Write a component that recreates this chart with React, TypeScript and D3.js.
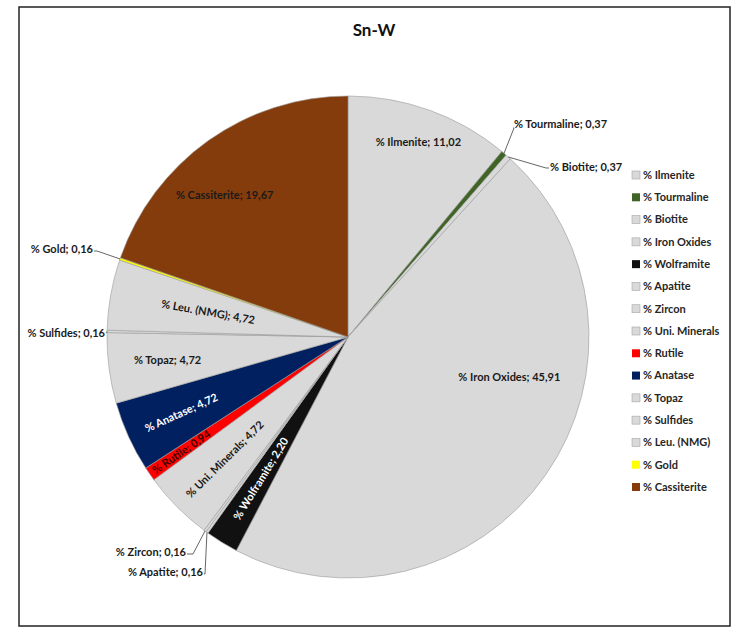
import React from 'react';
import * as d3 from 'd3';

const title = 'Sn-W';
const categories = [
  '% Ilmenite', '% Tourmaline', '% Biotite', '% Iron Oxides', '% Wolframite',
  '% Apatite', '% Zircon', '% Uni. Minerals', '% Rutile', '% Anatase',
  '% Topaz', '% Sulfides', '% Leu. (NMG)', '% Gold', '% Cassiterite',
];
const values = [11.02, 0.37, 0.37, 45.91, 2.2, 0.16, 0.16, 4.72, 0.94, 4.72, 4.72, 0.16, 4.72, 0.16, 19.67];
const colors = [
  '#d9d9d9', '#3f6426', '#d9d9d9', '#d9d9d9', '#111111',
  '#d9d9d9', '#d9d9d9', '#d9d9d9', '#ff0000', '#002060',
  '#d9d9d9', '#d9d9d9', '#d9d9d9', '#ffff00', '#843c0c',
];
const labelColors = [
  '#1a1a1a', '#1a1a1a', '#1a1a1a', '#1a1a1a', '#ffffff',
  '#1a1a1a', '#1a1a1a', '#1a1a1a', '#3a0000', '#ffffff',
  '#1a1a1a', '#1a1a1a', '#1a1a1a', '#1a1a1a', '#1a1a1a',
];

// label layout (style only)
type InL = { kind: 'in'; r: number; a?: number; rot?: boolean };
type OutL = { kind: 'out'; x: number; y: number; anchor: 'start' | 'end'; elbow: [number, number] };
const labelLayout: (InL | OutL)[] = [
  { kind: 'in', r: 0.86 },
  { kind: 'out', x: 514, y: 124, anchor: 'start', elbow: [514, 128] },
  { kind: 'out', x: 550, y: 167, anchor: 'start', elbow: [546, 168] },
  { kind: 'in', r: 0.69, a: 104 },
  { kind: 'in', r: 0.69, rot: true },
  { kind: 'out', x: 203, y: 572, anchor: 'end', elbow: [205, 574] },
  { kind: 'out', x: 186, y: 552, anchor: 'end', elbow: [193, 554] },
  { kind: 'in', r: 0.72, rot: true },
  { kind: 'in', r: 0.84, rot: true },
  { kind: 'in', r: 0.76, rot: true },
  { kind: 'in', r: 0.755 },
  { kind: 'out', x: 105, y: 333, anchor: 'end', elbow: [106, 333] },
  { kind: 'in', r: 0.59, rot: true },
  { kind: 'out', x: 93, y: 249, anchor: 'end', elbow: [97, 251] },
  { kind: 'in', r: 0.78, a: 319 },
];

const W = 739;
const H = 628;
const cx = 348;
const cy = 337;
const R = 241;
const FONT = 'Lato, "Open Sans", sans-serif';

const fmt = (v: number) => v.toFixed(2).replace('.', ',');

export default function App() {
  const data = categories.map((c, i) => ({ cat: c, value: values[i], color: colors[i], i }));
  const pie = d3.pie<typeof data[0]>().value(d => d.value).sort(null).startAngle(0).endAngle(2 * Math.PI);
  const arcs = pie(data);
  const arc = d3.arc<d3.PieArcDatum<typeof data[0]>>().innerRadius(0).outerRadius(R);

  const legendY = d3.scaleLinear().domain([0, categories.length - 1]).range([175, 487]);

  const polar = (deg: number, r: number): [number, number] => {
    const a = (deg * Math.PI) / 180;
    return [cx + r * Math.sin(a), cy - r * Math.cos(a)];
  };

  return (
    <svg width={W} height={H} style={{ position: 'absolute', left: 0, top: 0, background: '#fff' }} fontFamily={FONT}>
      <rect x={19} y={7} width={711} height={619} fill="#fff" stroke="#222" strokeWidth={1.5} />
      <text x={374} y={36} textAnchor="middle" fontSize={17} fontWeight="bold" fill="#111">{title}</text>
      <g transform={`translate(${cx},${cy})`}>
        {arcs.map((a, k) => (
          <path key={k} d={arc(a) || ''} fill={a.data.color} stroke="#9a9a9a" strokeWidth={0.6} />
        ))}
      </g>
      {arcs.map((a, k) => {
        const lay = labelLayout[k];
        const midDeg = (((a.startAngle + a.endAngle) / 2) * 180) / Math.PI;
        const text = `${a.data.cat}; ${fmt(a.data.value)}`;
        if (lay.kind === 'in') {
          const deg = lay.a ?? midDeg;
          const [x, y] = polar(deg, lay.r * R);
          const rot = lay.rot ? midDeg - 270 : 0;
          return (
            <text key={k} transform={`translate(${x},${y}) rotate(${rot})`} textAnchor="middle" dy="0.35em"
              fontSize={11} fontWeight="bold" fill={labelColors[k]}>{text}</text>
          );
        }
        const [ex, ey] = polar(midDeg, R);
        const pts: [number, number][] = [[ex, ey], lay.elbow, [lay.anchor === 'start' ? lay.x - 1 : lay.x + 1, lay.elbow[1]]];
        return (
          <g key={k}>
            <polyline points={pts.map(p => p.join(',')).join(' ')} fill="none" stroke="#555" strokeWidth={0.9} />
            <text x={lay.x} y={lay.y} textAnchor={lay.anchor} dy="0.35em" fontSize={11} fontWeight="bold" fill="#1a1a1a">{text}</text>
          </g>
        );
      })}
      {categories.map((c, i) => (
        <g key={c} transform={`translate(632,${legendY(i)})`}>
          <rect x={0} y={-4} width={8} height={8} fill={colors[i]} stroke={colors[i] === '#d9d9d9' ? '#a6a6a6' : 'none'} strokeWidth={0.6} />
          <text x={11} y={0} dy="0.35em" fontSize={11} fontWeight="bold" fill="#262626">{c}</text>
        </g>
      ))}
    </svg>
  );
}
